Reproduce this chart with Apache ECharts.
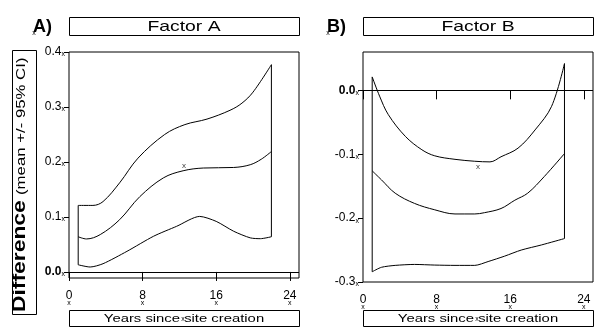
<!DOCTYPE html>
<html><head><meta charset="utf-8">
<script src="https://cdn.jsdelivr.net/npm/echarts@6/dist/echarts.min.js"></script>
<style>html,body{margin:0;padding:0;background:#fff}#c{width:605px;height:334px}</style>
</head><body><div id="c"></div>
<script>
// ---------- Data ----------
const panelTitles = ['Factor A', 'Factor B'];
const panelLetters = ['A)', 'B)'];
const xTitle = 'Years since site creation';
const yTitleMain = 'Difference';
const yTitleSub = '(mean +/- 95% CI)';
const xTicks = [0, 8, 16, 24];
const yTicksA = [0, 0.1, 0.2, 0.3, 0.4];
const yTicksB = [-0.3, -0.2, -0.1, 0];

// Panel A (Factor A)
const upperAx = [1.0, 2.6, 3.7, 5.5, 7.5, 10.4, 12.6, 15.0, 17.5, 18.8, 20.0, 22.0];
const upperAy = [0.121, 0.121, 0.128, 0.162, 0.207, 0.250, 0.268, 0.278, 0.294, 0.307, 0.327, 0.377];
const meanAx = [1.0, 1.9, 3.4, 5.5, 7.7, 10.25, 12.4, 14.6, 17.9, 19.7, 20.9, 22.0];
const meanAy = [0.064, 0.060, 0.068, 0.095, 0.137, 0.171, 0.184, 0.189, 0.190, 0.195, 0.205, 0.219];
const lowerAx = [1.0, 2.3, 3.7, 6.3, 9.2, 11.7, 14.2, 16.0, 17.9, 19.7, 20.8, 22.0];
const lowerAy = [0.013, 0.009, 0.015, 0.0375, 0.065, 0.083, 0.101, 0.092, 0.074, 0.062, 0.0605, 0.064];
const markA = [[12.5, 0.193]];

// Panel B (Factor B)
const upperBx = [1.0, 1.8, 2.75, 4.6, 6.4, 7.8, 10.0, 12.15, 13.8, 15.0, 16.85, 18.7, 20.5, 21.9];
const upperBy = [0.021, -0.009, -0.038, -0.072, -0.093, -0.1025, -0.108, -0.111, -0.112, -0.104, -0.0905, -0.062, -0.025, 0.042];
const meanBx = [1.0, 2.0, 3.5, 5.6, 7.8, 10.0, 12.15, 13.2, 15.0, 16.5, 17.9, 19.7, 21.9];
const meanBy = [-0.126, -0.140, -0.161, -0.177, -0.187, -0.1935, -0.1935, -0.1915, -0.185, -0.172, -0.161, -0.135, -0.099];
const lowerBx = [1.0, 2.0, 3.5, 5.6, 7.8, 10.0, 12.15, 13.6, 15.4, 17.2, 19.4, 21.9];
const lowerBy = [-0.284, -0.277, -0.274, -0.2725, -0.2735, -0.274, -0.274, -0.268, -0.2595, -0.250, -0.242, -0.232];
const markB = [[12.5, -0.119]];

// ---------- Build ----------
const FONT = '"Liberation Sans", Arial, sans-serif';
const pts = (xs, ys) => xs.map((x, i) => [x, ys[i]]);
const first = (xs, ys) => [xs[0], ys[0]];
const last = (xs, ys) => [xs[xs.length - 1], ys[ys.length - 1]];
const blk = { color: '#000', width: 1 };

function panelSeries(idx, ux, uy, mx, my, lx, ly, mark) {
  const base = { type: 'line', xAxisIndex: idx, yAxisIndex: idx, symbol: 'none', lineStyle: blk, silent: true };
  return [
    Object.assign({}, base, { data: pts(ux, uy), smooth: 0.35 }),
    Object.assign({}, base, { data: pts(mx, my), smooth: 0.35,
      markLine: { silent: true, symbol: 'none', label: { show: false }, lineStyle: { color: '#000', width: 1, type: 'solid' }, data: [{ yAxis: 0 }] } }),
    Object.assign({}, base, { data: pts(lx, ly), smooth: 0.25 }),
    Object.assign({}, base, { data: [first(ux, uy), first(lx, ly)] }),
    Object.assign({}, base, { data: [last(ux, uy), last(lx, ly)] }),
    { type: 'scatter', xAxisIndex: idx, yAxisIndex: idx, data: mark, symbolSize: 0, silent: true,
      label: { show: true, position: 'inside', formatter: 'x', fontSize: 8, color: '#000', fontFamily: FONT } }
  ];
}

function xAxisCfg(idx) {
  return {
    gridIndex: idx, type: 'value', min: 0, max: 25,
    axisLine: { show: false }, splitLine: { show: false },
    axisTick: { show: true, customValues: xTicks, length: 9, lineStyle: { color: '#000' } },
    axisLabel: {
      customValues: xTicks, margin: 12, color: '#000', fontFamily: FONT, fontSize: 12,
      formatter: v => '{v|' + v + '}\n{x|x}',
      rich: { v: { fontSize: 12, fontFamily: FONT, color: '#000', lineHeight: 11 },
              x: { fontSize: 7, fontFamily: FONT, color: '#000', lineHeight: 5 } }
    }
  };
}
function yAxisCfg(idx, min, max, ticks) {
  return {
    gridIndex: idx, type: 'value', min: min, max: max,
    axisLine: { show: false }, splitLine: { show: false },
    axisTick: { show: true, customValues: ticks, length: 5, lineStyle: { color: '#000' } },
    axisLabel: {
      customValues: ticks, margin: 4, color: '#000', fontFamily: FONT, fontSize: 12,
      formatter: v => (Math.abs(v) < 1e-9 ? '{b|0.0}' : '{v|' + v.toFixed(1) + '}') + '{x|x}',
      rich: { v: { fontSize: 12, fontFamily: FONT, color: '#000' },
              b: { fontSize: 12, fontFamily: FONT, color: '#000', fontWeight: 'bold' },
              x: { fontSize: 7, fontFamily: FONT, color: '#000', verticalAlign: 'bottom' } }
    }
  };
}

const grids = [
  { left: 69, top: 52, width: 230, height: 226 },
  { left: 363, top: 52, width: 230, height: 230 }
];

function boxRect(x, y, w, h) {
  return { type: 'rect', shape: { x: x + 0.5, y: y + 0.5, width: w, height: h }, style: { fill: 'none', stroke: '#000', lineWidth: 1 }, silent: true };
}
function txt(x, y, text, size, opts) {
  opts = opts || {};
  return Object.assign({ type: 'text', x: x, y: y, silent: true,
    style: { text: text, font: (opts.bold ? 'bold ' : '') + size + 'px ' + FONT, fill: '#000',
      align: opts.align || 'center', verticalAlign: opts.valign || 'middle',
      textAlign: opts.align || 'center', textVerticalAlign: opts.valign || 'middle' } },
    opts.extra || {});
}

const graphics = [];
grids.forEach((g, i) => {
  graphics.push(boxRect(g.left, 17, 230, 18));
  graphics.push(txt(g.left + 115, 26.5, panelTitles[i], 15, { extra: { scaleX: 1.29 } }));
  graphics.push(boxRect(g.left, 310, 230, 16));
  graphics.push(txt(g.left + 115, 318.5, xTitle, 11.5, { extra: { scaleX: 1.29 } }));
  graphics.push(txt(g.left + 114, 319, 'x', 7));
  graphics.push(txt(g.left - 36, 27, panelLetters[i], 18, { bold: true, align: 'left' }));
  graphics.push(txt(g.left - 35, 33, 'x', 7));
});
graphics.push(boxRect(12, 50, 24, 264));
graphics.push(txt(20.5, 312, yTitleMain, 18, { bold: true, align: 'left', extra: { rotation: Math.PI / 2, scaleX: 1.27 } }));
graphics.push(txt(21.5, 195, yTitleSub, 13, { align: 'left', extra: { rotation: Math.PI / 2, scaleX: 1.29 } }));

const option = {
  animation: false,
  backgroundColor: '#fff',
  grid: grids.map(g => Object.assign({ show: true, borderColor: '#000', borderWidth: 1, backgroundColor: 'transparent' }, g)),
  xAxis: [xAxisCfg(0), xAxisCfg(1)],
  yAxis: [yAxisCfg(0, -0.011, 0.4, yTicksA), yAxisCfg(1, -0.3, 0.06, yTicksB)],
  series: [].concat(
    panelSeries(0, upperAx, upperAy, meanAx, meanAy, lowerAx, lowerAy, markA),
    panelSeries(1, upperBx, upperBy, meanBx, meanBy, lowerBx, lowerBy, markB)
  ),
  graphic: { elements: graphics }
};
const chart = echarts.init(document.getElementById('c'), null, { renderer: 'canvas' });
chart.setOption(option);
</script></body></html>
